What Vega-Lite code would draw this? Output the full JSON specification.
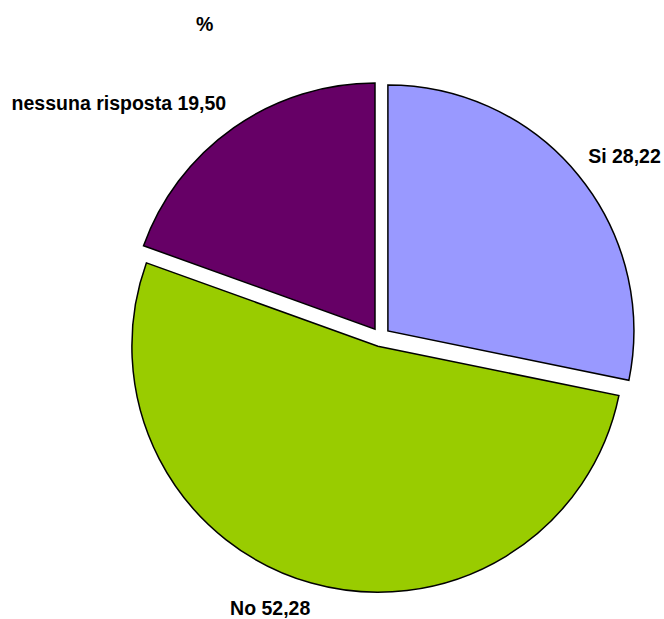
{
  "$schema": "https://vega.github.io/schema/vega-lite/v6.json",
  "width": 500,
  "height": 500,
  "autosize": "none",
  "padding": {"left": 130.5, "top": 87, "right": 33.5, "bottom": 32},
  "title": {"text": "%", "anchor": "start", "frame": "group", "dx": 65.5, "offset": 45, "font": "Liberation Sans", "fontSize": 19.5, "fontWeight": "bold", "color": "black"},
  "config": {"view": {"stroke": null}, "text": {"font": "Liberation Sans"}},
  "data": {
    "values": [
      {"cat": "Si", "value": 28.22, "label": "Si 28,22"},
      {"cat": "No", "value": 52.28, "label": "No 52,28"},
      {"cat": "nessuna risposta", "value": 19.50, "label": "nessuna risposta 19,50"}
    ]
  },
  "transform": [{"stack": "value", "groupby": [], "as": ["v0", "v1"]}],
  "layer": [
    {
      "transform": [{"filter": "datum.cat === 'Si'"}],
      "mark": {"type": "arc", "radius": 246, "xOffset": 7.4, "yOffset": -6.1, "stroke": "black", "strokeWidth": 1.5},
      "encoding": {
        "theta": {"field": "v0", "type": "quantitative", "stack": null, "scale": {"domain": [0, 100]}},
        "theta2": {"field": "v1"},
        "color": {"field": "cat", "type": "nominal", "scale": {"domain": ["Si", "No", "nessuna risposta"], "range": ["#9999FF", "#99CC00", "#660066"]}, "legend": null}
      }
    },
    {
      "transform": [{"filter": "datum.cat === 'No'"}],
      "mark": {"type": "arc", "radius": 246, "xOffset": -2.6, "yOffset": 9.2, "stroke": "black", "strokeWidth": 1.5},
      "encoding": {
        "theta": {"field": "v0", "type": "quantitative", "stack": null, "scale": {"domain": [0, 100]}},
        "theta2": {"field": "v1"},
        "color": {"field": "cat", "type": "nominal", "scale": {"domain": ["Si", "No", "nessuna risposta"], "range": ["#9999FF", "#99CC00", "#660066"]}, "legend": null}
      }
    },
    {
      "transform": [{"filter": "datum.cat === 'nessuna risposta'"}],
      "mark": {"type": "arc", "radius": 246, "xOffset": -5.5, "yOffset": -7.9, "stroke": "black", "strokeWidth": 1.5},
      "encoding": {
        "theta": {"field": "v0", "type": "quantitative", "stack": null, "scale": {"domain": [0, 100]}},
        "theta2": {"field": "v1"},
        "color": {"field": "cat", "type": "nominal", "scale": {"domain": ["Si", "No", "nessuna risposta"], "range": ["#9999FF", "#99CC00", "#660066"]}, "legend": null}
      }
    },
    {
      "mark": {"type": "text", "radius": 268, "align": "left", "baseline": "alphabetic", "dy": -5, "fontSize": 19.5, "fontWeight": "bold", "color": "black", "font": "Liberation Sans"},
      "encoding": {
        "theta": {"field": "value", "type": "quantitative", "stack": true, "scale": {"domain": [0, 100]}},
        "order": {"field": "v0", "type": "quantitative"},
        "detail": {"field": "cat"},
        "text": {"condition": {"test": "datum.cat === 'Si'", "field": "label"}, "value": ""}
      }
    },
    {
      "mark": {"type": "text", "radius": 289, "align": "right", "baseline": "alphabetic", "dx": 8, "fontSize": 19.5, "fontWeight": "bold", "color": "black", "font": "Liberation Sans"},
      "encoding": {
        "theta": {"field": "value", "type": "quantitative", "stack": true, "scale": {"domain": [0, 100]}},
        "order": {"field": "v0", "type": "quantitative"},
        "detail": {"field": "cat"},
        "text": {"condition": {"test": "datum.cat === 'No'", "field": "label"}, "value": ""}
      }
    },
    {
      "mark": {"type": "text", "radius": 277, "align": "right", "baseline": "alphabetic", "dx": 5, "fontSize": 19.5, "fontWeight": "bold", "color": "black", "font": "Liberation Sans"},
      "encoding": {
        "theta": {"field": "value", "type": "quantitative", "stack": true, "scale": {"domain": [0, 100]}},
        "order": {"field": "v0", "type": "quantitative"},
        "detail": {"field": "cat"},
        "text": {"condition": {"test": "datum.cat === 'nessuna risposta'", "field": "label"}, "value": ""}
      }
    }
  ]
}
